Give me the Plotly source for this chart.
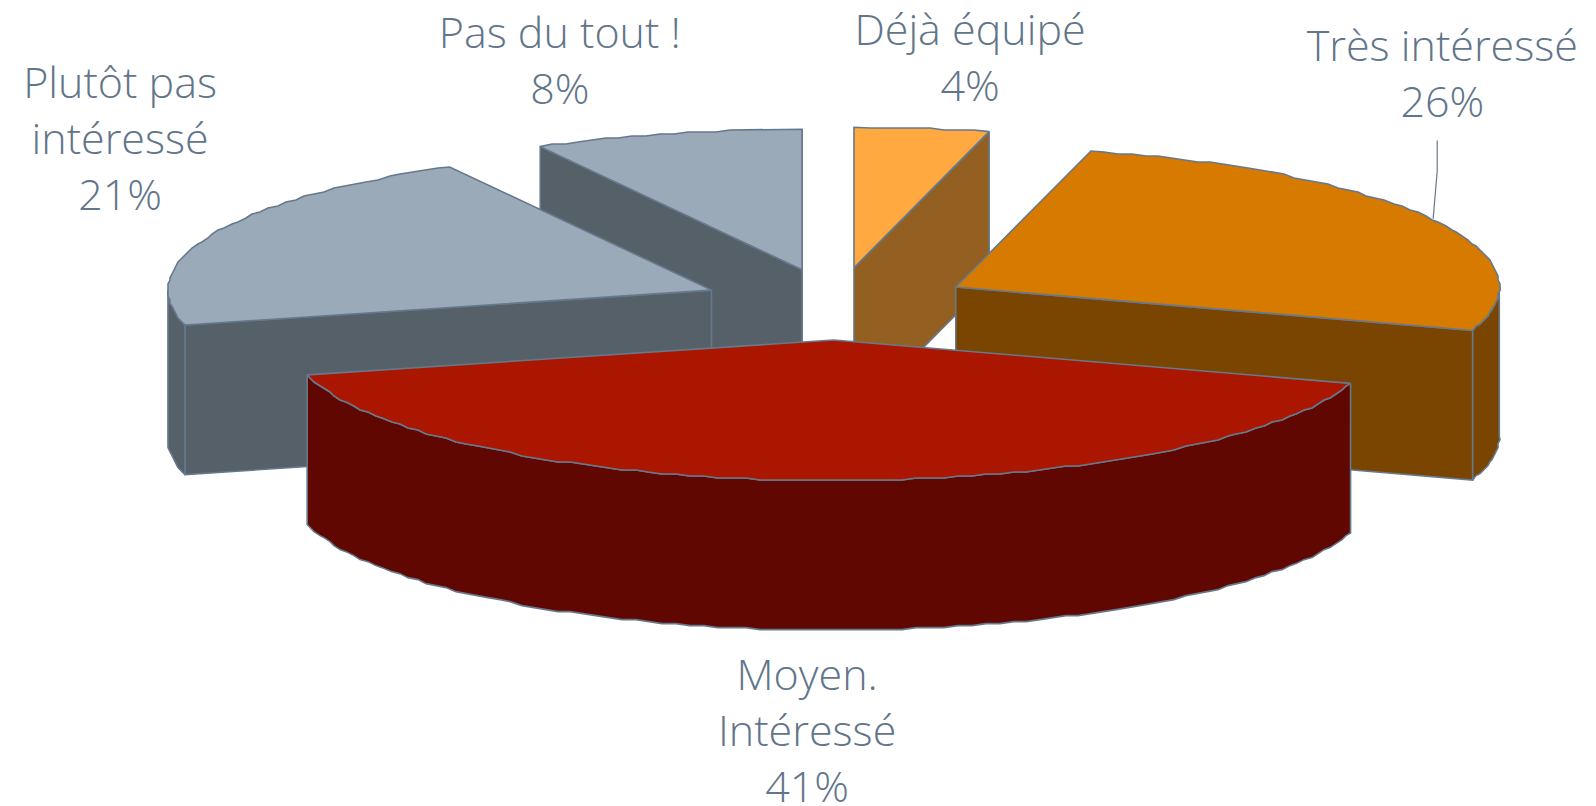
import math
import plotly.graph_objects as go

categories = ["Pas du tout !", "Plutôt pas<br>intéressé", "Déjà équipé", "Très intéressé", "Moyen.<br>Intéressé"]
percent = [8, 21, 4, 26, 41]
top_colors = ["#9AAAB9", "#9AAAB9", "#FFA940", "#D67A00", "#AA1600"]
side_colors = ["#556068", "#556068", "#946021", "#7A4500", "#5F0700"]

# Clockwise from 12 o'clock order of the slices
clock_order = [2, 3, 4, 1, 0]

S = 1596 / 1568
RX, RY, DEPTH = 534 * S, 138 * S, 147 * S
apex = {0: (788, 265), 1: (699, 285), 2: (839, 263), 3: (939, 282), 4: (819, 334)}
label_pos = {0: (550, 64), 1: (118, 141), 2: (953, 61), 3: (1417, 77), 4: (793, 722)}
OUTLINE = "#66798C"
STEP = 2.0


def q(v):
    return round(v / STEP) * STEP


def point(cx, cy, deg):
    a = math.radians(deg)
    return cx + RX * math.sin(a), cy - RY * math.cos(a)


def arc(cx, cy, a0, a1):
    n = max(2, int(abs(a1 - a0) / 1.5))
    pts = [point(cx, cy, a0 + (a1 - a0) * i / n) for i in range(n + 1)]
    return [pts[0]] + [(q(x), q(y)) for x, y in pts[1:-1]] + [pts[-1]]


total = sum(percent)
angles = {}
running = 0.0
for i in clock_order:
    angles[i] = (running, running + percent[i] / total * 360)
    running = angles[i][1]

fig = go.Figure()


def poly(pts, fill):
    pts = list(pts) + [pts[0]]
    fig.add_trace(go.Scatter(
        x=[p[0] for p in pts], y=[p[1] for p in pts], mode="lines", fill="toself",
        fillcolor=fill, line=dict(color=OUTLINE, width=1.6), hoverinfo="skip", showlegend=False))


for i in range(len(categories)):
    cx, cy = apex[i][0] * S, apex[i][1] * S
    a0, a1 = angles[i]
    side = side_colors[i]
    if 0 < math.sin(math.radians(a1)):
        e = point(cx, cy, a1)
        poly([(cx, cy), e, (e[0], e[1] + DEPTH), (cx, cy + DEPTH)], side)
    if math.sin(math.radians(a0)) < 0:
        e = point(cx, cy, a0)
        poly([(cx, cy), e, (e[0], e[1] + DEPTH), (cx, cy + DEPTH)], side)
    lo, hi = max(a0, 90), min(a1, 270)
    if lo < hi:
        up = arc(cx, cy, lo, hi)
        poly(up + [(x, y + DEPTH) for x, y in reversed(up)], side)
    poly([(cx, cy)] + arc(cx, cy, a0, a1), top_colors[i])

fig.add_trace(go.Scatter(
    x=[1412 * S, 1412 * S, 1408 * S], y=[138 * S, 168 * S, 215 * S], mode="lines",
    line=dict(color=OUTLINE, width=1.2), hoverinfo="skip", showlegend=False))

fig.add_trace(go.Scatter(
    x=[label_pos[i][0] * S for i in range(len(categories))],
    y=[label_pos[i][1] * S for i in range(len(categories))],
    mode="text", cliponaxis=False,
    text=[f"{categories[i]}<br>{percent[i]}%" for i in range(len(categories))],
    textposition="middle center",
    textfont=dict(family="Open Sans", size=43, color="#62758A", weight=300),
    hoverinfo="skip", showlegend=False))

fig.update_layout(
    width=1596, height=806, margin=dict(l=0, r=0, t=0, b=0),
    paper_bgcolor="white", plot_bgcolor="white",
    xaxis=dict(range=[0, 1596], visible=False, fixedrange=True),
    yaxis=dict(range=[806, 0], visible=False, fixedrange=True),
)
fig.write_html("out.html", config={"displayModeBar": False},
               post_script="document.body.style.margin='0';")
